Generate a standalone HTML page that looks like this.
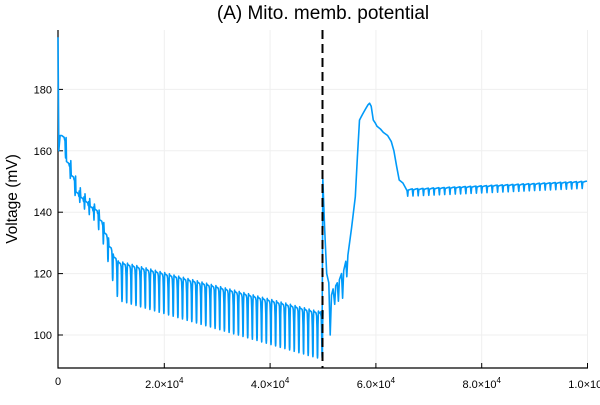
<!DOCTYPE html><html><head><meta charset="utf-8"><style>body{margin:0;background:#fff}svg{font-family:"Liberation Sans","DejaVu Sans",sans-serif}</style></head><body>
<svg id="s" width="600" height="400" viewBox="0 0 600 400" xmlns="http://www.w3.org/2000/svg">
<rect width="600" height="400" fill="#fff"/>
<g stroke="#efefef" stroke-width="1">
<line x1="164.3" y1="30" x2="164.3" y2="368"/><line x1="270.1" y1="30" x2="270.1" y2="368"/><line x1="375.9" y1="30" x2="375.9" y2="368"/><line x1="481.7" y1="30" x2="481.7" y2="368"/><line x1="587.5" y1="30" x2="587.5" y2="368"/>
<line x1="58" y1="335" x2="588" y2="335"/><line x1="58" y1="273.6" x2="588" y2="273.6"/><line x1="58" y1="212.2" x2="588" y2="212.2"/><line x1="58" y1="150.8" x2="588" y2="150.8"/><line x1="58" y1="89.4" x2="588" y2="89.4"/>
</g>
<g stroke="#000" stroke-width="1.2"><line x1="58" y1="30" x2="58" y2="368.5"/><line x1="57.5" y1="368" x2="588" y2="368"/></g>
<g stroke="#000" stroke-width="1"><line x1="164.3" y1="368" x2="164.3" y2="363"/><line x1="270.1" y1="368" x2="270.1" y2="363"/><line x1="375.9" y1="368" x2="375.9" y2="363"/><line x1="481.7" y1="368" x2="481.7" y2="363"/><line x1="587.5" y1="368" x2="587.5" y2="363"/>
<line x1="58" y1="335" x2="63" y2="335"/><line x1="58" y1="273.6" x2="63" y2="273.6"/><line x1="58" y1="212.2" x2="63" y2="212.2"/><line x1="58" y1="150.8" x2="63" y2="150.8"/><line x1="58" y1="89.4" x2="63" y2="89.4"/></g>
<g font-size="11" fill="#000" text-anchor="end"><text x="52" y="339">100</text><text x="52" y="277.6">120</text><text x="52" y="216.2">140</text><text x="52" y="154.8">160</text><text x="52" y="93.4">180</text></g>
<g font-size="11" fill="#000" text-anchor="middle"><text x="58" y="385">0</text><text x="164.3" y="388">2.0×10<tspan font-size="8" dy="-5">4</tspan></text><text x="270.1" y="388">4.0×10<tspan font-size="8" dy="-5">4</tspan></text><text x="375.9" y="388">6.0×10<tspan font-size="8" dy="-5">4</tspan></text><text x="481.7" y="388">8.0×10<tspan font-size="8" dy="-5">4</tspan></text><text x="587.5" y="388">1.0×10<tspan font-size="8" dy="-5">5</tspan></text></g>
<text x="323" y="19" font-size="19" text-anchor="middle">(A) Mito. memb. potential</text>
<text transform="translate(17,199) rotate(-90)" font-size="15.5" text-anchor="middle">Voltage (mV)</text>
<polyline id="p" fill="none" stroke="#009af9" stroke-width="1.6" stroke-linejoin="round"/>
<line x1="322.5" y1="30" x2="322.5" y2="368" stroke="#000" stroke-width="2" stroke-dasharray="9,5"/>
</svg>
<script>
var X=t=>58+t*0.00529,Y=v=>335-(v-100)*3.07,pts=[];
function P(t,v){pts.push(X(t).toFixed(1)+","+Y(v).toFixed(1));}
function lerp(a,t){for(var i=0;i<a.length-1;i++){if(t<=a[i+1][0]){var f=(t-a[i][0])/(a[i+1][0]-a[i][0]);return a[i][1]+f*(a[i+1][1]-a[i][1]);}}return a[a.length-1][1];}
P(0,197);P(150,160);P(400,165);P(700,165);
var up=[[700,165],[1500,157],[2500,152],[3500,146],[5000,144],[6000,142],[7000,141],[8000,137],[9000,132],[10000,127],[11000,124],[49000,107.5]];
var dp=[[700,163],[3000,146],[5000,141],[7000,137],[8000,133],[9000,127],[10000,120],[11000,113],[12000,111],[49000,92.5]];
var per=[[0,900],[11000,880],[49000,880]];
var t=700;
while(t<49300){var p=lerp(per,t);var u=lerp(up,t),d=lerp(dp,t+p*0.8);
P(t,u);P(t+p*0.5,u-0.6);P(t+p*0.62,u-1.5);P(t+p*0.7,(u+d)/2+2);P(t+p*0.78,d+1);P(t+p*0.82,d);P(t+p*0.86,d+1);P(t+p*0.92,(u+d)/2+3);P(t+p,lerp(up,t+p)+0.3);t+=p;}
P(49600,107.5);P(49950,107);P(50050,151);P(50400,135);P(50800,120);P(51200,117);P(51450,100);P(51700,113);P(52000,115);P(52300,110);P(52500,116);P(52800,117);P(53000,111);P(53200,118);P(53600,120);P(53800,112);P(54000,121);P(54400,124);P(54600,119);P(54800,126);P(55500,135);P(56200,145);P(56600,158);P(57000,170);P(57300,171);P(57600,172);P(58100,173.5);P(58600,175);P(58900,175.5);P(59200,174.5);P(59600,170);P(60000,169);P(60300,168);P(61000,167);P(61500,166);P(62300,165);P(63000,163);P(63500,160);P(64000,155);P(64500,150.5);P(65200,149.5);P(66000,147);
t=66000;while(t<99900){var b=146.9+(t-66000)/34000*2.6;P(t,b);P(t+100,b-1.7);P(t+200,b+0.3);P(t+700,b+0.6);P(t+1000,b+0.7);t+=1000;}
document.getElementById("p").setAttribute("points",pts.join(" "));
</script>
</body></html>
